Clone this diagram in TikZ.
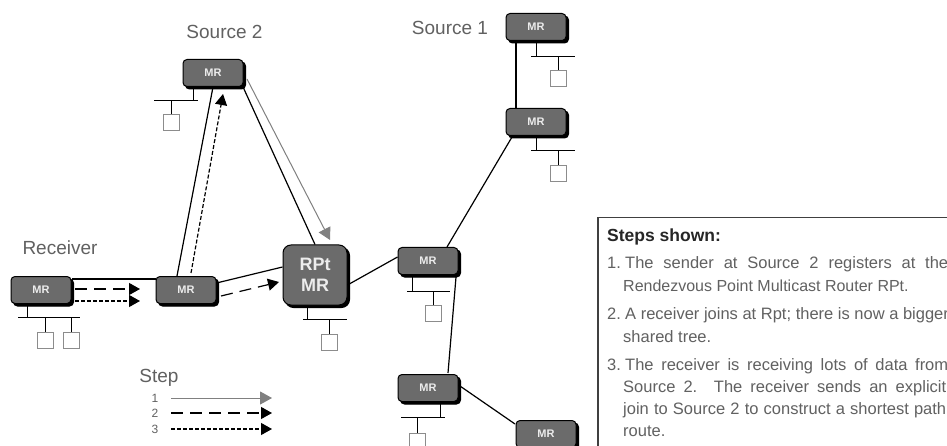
\documentclass[tikz,border=0pt]{standalone}
\usepackage{fontspec}
\setmainfont{Liberation Sans}
\usetikzlibrary{arrows.meta}
\definecolor{routerfill}{gray}{0.42}
\definecolor{txtgray}{gray}{0.38}
\definecolor{hostgray}{gray}{0.55}
\tikzset{
  x=1pt,y=-1pt,
  routerbox/.style={draw=black,line width=1pt,fill=routerfill,rounded corners=4pt,minimum width=#1,inner sep=0pt,
    text=white!85!gray,font=\fontsize{11}{11}\selectfont\bfseries,
    preaction={draw=black,fill=black,transform canvas={xshift=2.5pt,yshift=-2.5pt}}},
  routerbox/.default=60pt,
  mr/.style={routerbox=60pt,minimum height=27pt},
  host/.style={draw=hostgray,line width=1pt,fill=white,minimum size=16pt,inner sep=0pt},
  link/.style={draw=black,line width=1.2pt},
  lanline/.style={draw=black,line width=1pt},
  lbl/.style={text=txtgray,font=\fontsize{19}{19}\selectfont,inner sep=0pt},
  numlbl/.style={text=txtgray,font=\fontsize{12}{12}\selectfont,inner sep=0pt},
  tipb/.style={-{Triangle[length=11pt,width=12pt,fill=black]}},
  stepone/.style={draw=gray,line width=1pt,-{Triangle[length=12pt,width=13pt,fill=gray,color=gray]}},
  steptwo/.style={draw=black,line width=1.2pt,dash pattern=on 12pt off 7pt,tipb},
  stepthree/.style={draw=black,line width=1.2pt,dash pattern=on 4pt off 2pt,tipb},
  boxtext/.style={text=txtgray,font=\fontsize{16.5}{20}\selectfont,inner sep=0pt,anchor=base west},
}
\newcommand{\lanseg}[6]{\draw[lanline] (#2,#3) -- (#2,#4) (#5,#4) -- (#6,#4);}
\newcommand{\fullline}[1]{\makebox[323pt][s]{#1}}
\begin{document}
\begin{tikzpicture}
\useasboundingbox (0,0) rectangle (947,446);
\clip (0,0) rectangle (947,446);
\fill[white] (0,0) rectangle (947,446);
% routers
\node[mr] (R) at (41,290) {MR};
\node[mr] (M) at (186,290) {MR};
\node[mr] (S2) at (213,73) {MR};
\node[routerbox=64pt,minimum height=60pt,font=\fontsize{18}{21}\selectfont\bfseries,align=center,rounded corners=8pt] (RP) at (315,275) {RPt\\MR};
\node[mr] (S1) at (536,27) {MR};
\node[mr] (U2) at (536,122) {MR};
\node[mr] (A) at (428,261) {MR};
\node[mr] (B) at (428,388) {MR};
\node[mr] (C) at (546,434) {MR};
% router links
\draw[link] (R.north east |- 0,279) -- (M.north west |- 0,279);
\draw[link] (M.east |- 0,283) -- (RP.west |- 0,267);
\draw[link] (177,276) -- (S2.south |- 0,87) ;
\draw[link] (S2.south east) ++(0,1) -- (RP.north) ++(5,0);
\draw[link] (RP.east |- 0,285) -- (A.west |- 0,257);
\draw[link] (516,43) -- (516,108);
\draw[link] (512,137) -- (447,247);
\draw[link] (456,277) -- (448,373);
\draw[link] (B.east |- 0,385) -- (515,424);
% step arrows
\coordinate (r1) at (75,289); \coordinate (r1t) at (140,289);
\coordinate (r2) at (75,301); \coordinate (r2t) at (140,301);
\draw[steptwo] (r1) -- (r1t);
\draw[stepthree] (r2) -- (r2t);
\coordinate (m1) at (221,296); \coordinate (m1t) at (279,282);
\draw[steptwo] (m1) -- (m1t);
\coordinate (m2) at (191,273); \coordinate (m2t) at (223,94);
\draw[stepthree] (m2) -- (m2t);
\coordinate (g1) at (247,79); \coordinate (g1t) at (330,240);
\draw[stepone] (g1) -- (g1t);
% LANs
\lanseg{r}{27}{305}{317.5}{18}{80}
\lanseg{p}{307}{307}{319}{303}{347}
\lanseg{s}{193}{89}{101}{154}{198}
\lanseg{a}{536}{43}{57}{531}{575}
\lanseg{b}{536}{138}{151}{531}{575}
\lanseg{c}{412}{277}{291}{407}{450}
\lanseg{d}{440}{403}{417}{401}{445}
\node[host] (h1) at (45,340) {};
\node[host] (h2) at (71,340) {};
\node[host] (h3) at (329,342) {};
\node[host] (h4) at (171.5,123) {};
\node[host] (h5) at (558,78.5) {};
\node[host] (h6) at (558,173.5) {};
\node[host] (h7) at (433,313.5) {};
\node[host] (h8) at (417.5,441) {};
\draw[lanline] (h1.north) -- (h1.north |- 0,317.5);
\draw[lanline] (h2.north) -- (h2.north |- 0,317.5);
\draw[lanline] (h3.north) -- (h3.north |- 0,319);
\draw[lanline] (h4.north) -- (h4.north |- 0,101);
\draw[lanline] (h5.north) -- (h5.north |- 0,57);
\draw[lanline] (h6.north) -- (h6.north |- 0,151);
\draw[lanline] (h7.north) -- (h7.north |- 0,291);
\draw[lanline] (h8.north) -- (h8.north |- 0,417);
% labels
\node[lbl] (l1) at (224.5,32) {Source 2};
\node[lbl] (l2) at (450,28) {Source 1};
\node[lbl] (l3) at (60,248) {Receiver};
\node[lbl] (l4) at (159,378) {Step};
% legend
\node[numlbl] (n1) at (155,398) {1};
\node[numlbl] (n2) at (155,413) {2};
\node[numlbl] (n3) at (155,429) {3};
\coordinate (k1) at (171,398); \coordinate (k1t) at (272,398);
\coordinate (k2) at (171,413); \coordinate (k2t) at (272,413);
\coordinate (k3) at (171,429); \coordinate (k3t) at (272,429);
\draw[stepone] (k1) -- (k1t);
\draw[steptwo] (k2) -- (k2t);
\draw[stepthree] (k3) -- (k3t);
% text box
\draw[draw=black!75,line width=1.4pt] (947,217.5) -- (598,217.5) -- (598,446);
\node[boxtext,text=black!85,font=\fontsize{17.5}{17.5}\selectfont\bfseries] (t0) at (607,242) {Steps shown:};
\node[boxtext] (t1) at (607,269) {1.};
\node[boxtext] (t1a) at (625,269) {\fullline{The sender at Source 2 registers at the}};
\node[boxtext,font=\fontsize{16}{20}\selectfont] (t1b) at (623,291) {Rendezvous Point Multicast Router RPt.};
\node[boxtext] (t2) at (607,319) {2.};
\node[boxtext] (t2a) at (625,319) {A receiver joins at Rpt; there is now a bigger};
\node[boxtext] (t2b) at (623,342) {shared tree.};
\node[boxtext] (t3) at (607,370) {3.};
\node[boxtext] (t3a) at (625,370) {\fullline{The receiver is receiving lots of data from}};
\node[boxtext] (t3b) at (623,392) {\fullline{Source 2. The receiver sends an explicit}};
\node[boxtext] (t3c) at (623,414) {\fullline{join to Source 2 to construct a shortest path}};
\node[boxtext] (t3d) at (623,436) {route.};
\end{tikzpicture}
\end{document}
